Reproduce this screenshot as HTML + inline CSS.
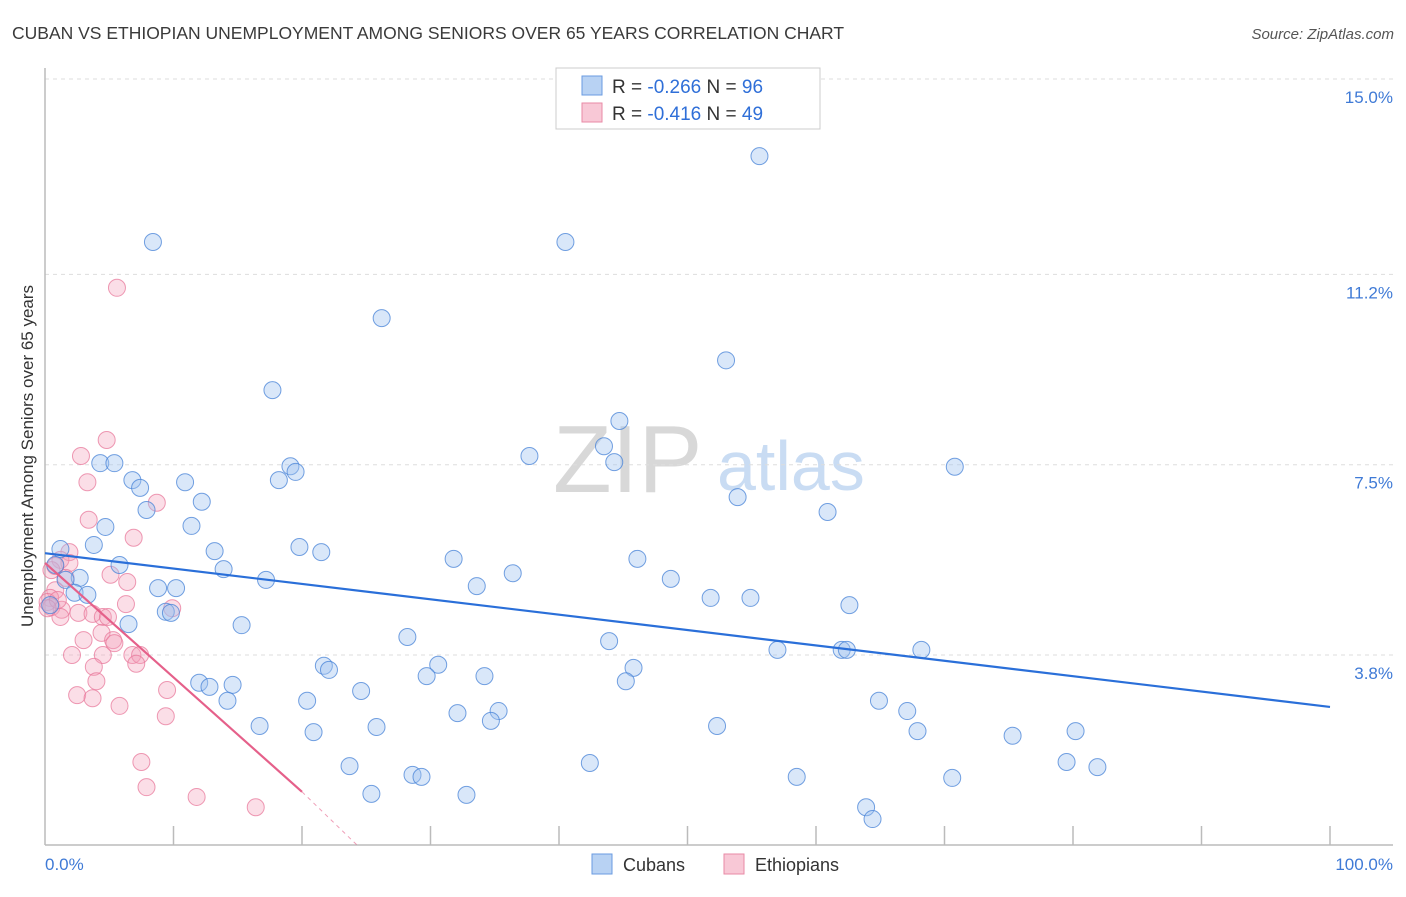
<!DOCTYPE html>
<html><head><meta charset="utf-8"><style>
body{margin:0;background:#fff;font-family:"Liberation Sans",sans-serif;}
svg text{font-family:"Liberation Sans",sans-serif;}
</style></head><body>
<svg id="chart" width="1406" height="892" viewBox="0 0 1406 892" xmlns="http://www.w3.org/2000/svg">
<text x="12" y="39" font-size="17.5" fill="#3a3a3a">CUBAN VS ETHIOPIAN UNEMPLOYMENT AMONG SENIORS OVER 65 YEARS CORRELATION CHART</text>
<text x="1394" y="39" font-size="15" fill="#555" text-anchor="end" font-style="italic">Source: ZipAtlas.com</text>
<g>
<text x="553" y="492" font-size="96" fill="#d8d8d8" font-family="Liberation Serif, serif">ZIP</text>
<text x="717" y="490" font-size="70" fill="#c9dcf3">atlas</text>
</g>
<g id="grid"></g>
<g id="axes"></g>
<g id="marks"></g>
<text transform="translate(33,456) rotate(-90)" font-size="17" fill="#333" text-anchor="middle">Unemployment Among Seniors over 65 years</text>
<g>
<rect x="556" y="68" width="264" height="61" fill="#fff" stroke="#ccc"/>
<rect x="582" y="76" width="20" height="19" fill="#b8d2f3" stroke="#6a9be0"/>
<text x="612" y="93" font-size="19" fill="#333">R = <tspan fill="#2f6fd8">-0.266</tspan>   N = <tspan fill="#2f6fd8">96</tspan></text>
<rect x="582" y="103" width="20" height="19" fill="#f8c8d6" stroke="#e88aa6"/>
<text x="612" y="120" font-size="19" fill="#333">R = <tspan fill="#2f6fd8">-0.416</tspan>   N = <tspan fill="#2f6fd8">49</tspan></text>
</g>
<g>
<rect x="592" y="854" width="20" height="20" fill="#b8d2f3" stroke="#6a9be0"/>
<text x="623" y="871" font-size="18" fill="#333">Cubans</text>
<rect x="724" y="854" width="20" height="20" fill="#f8c8d6" stroke="#e88aa6"/>
<text x="755" y="871" font-size="18" fill="#333">Ethiopians</text>
</g>
</svg>
<script>
const yTicks=[15.0,11.2,7.5,3.8];
const yTickLabels=["15.0%","11.2%","7.5%","3.8%"];
const xTickCount=10;
const xLabels=["0.0%","100.0%"];
const cubanX=[8.4,40.5,55.6,26.2,53.0,17.7,44.7,43.5,37.7,44.3,4.3,5.4,19.1,19.5,18.2,6.8,7.4,10.9,12.2,70.8,53.9,7.9,60.9,4.7,11.4,3.8,1.2,19.8,21.5,13.2,31.8,46.1,5.8,13.9,36.4,17.2,48.7,2.7,1.6,33.6,8.8,10.2,2.3,3.3,51.8,54.9,62.6,9.4,9.8,15.3,6.5,28.2,43.9,57.0,62.0,62.4,68.2,21.7,22.1,30.6,45.8,29.7,34.2,45.2,12.0,12.8,14.6,24.6,20.4,14.2,64.9,67.1,32.1,35.3,34.7,16.7,25.8,52.3,20.9,67.9,80.2,75.3,23.7,42.4,79.5,81.9,28.6,29.3,58.5,70.6,25.4,32.8,63.9,64.4,0.8,0.4];
const cubanY=[11.83,11.83,13.5,10.35,9.53,8.95,8.35,7.86,7.67,7.55,7.53,7.53,7.47,7.36,7.20,7.20,7.05,7.16,6.78,7.46,6.87,6.62,6.58,6.29,6.31,5.94,5.86,5.90,5.80,5.82,5.67,5.67,5.55,5.47,5.39,5.26,5.28,5.30,5.26,5.14,5.10,5.10,5.01,4.97,4.91,4.91,4.77,4.64,4.62,4.38,4.40,4.15,4.07,3.90,3.90,3.90,3.90,3.59,3.51,3.61,3.55,3.39,3.39,3.29,3.26,3.18,3.22,3.10,2.91,2.91,2.91,2.71,2.67,2.71,2.52,2.42,2.40,2.42,2.30,2.32,2.32,2.23,1.64,1.70,1.72,1.62,1.47,1.43,1.43,1.41,1.10,1.08,0.84,0.61,5.55,4.77];
const ethX=[5.6,4.8,2.8,3.3,8.7,3.4,6.9,1.9,1.2,1.9,0.5,5.1,6.4,1.6,0.8,0.4,0.2,0.5,1.3,2.6,3.7,6.3,4.5,4.9,9.9,1.2,4.4,5.3,5.4,3.0,2.1,4.5,6.8,7.4,7.1,3.8,4.0,9.5,2.5,3.7,5.8,9.4,7.5,7.9,11.8,16.4,1.0,0.8,0.2];
const ethY=[10.94,7.98,7.67,7.16,6.76,6.43,6.08,5.80,5.65,5.59,5.45,5.36,5.22,5.30,5.06,4.91,4.83,4.73,4.68,4.62,4.60,4.79,4.54,4.54,4.71,4.54,4.23,4.09,4.03,4.09,3.80,3.80,3.80,3.80,3.63,3.57,3.29,3.12,3.02,2.96,2.81,2.61,1.72,1.23,1.04,0.84,4.87,5.53,4.71];
const cubanTrendX=[0,100];
const cubanTrendY=[5.78,2.79];
const ethTrendX=[0,20,24.3];
const ethTrendY=[5.59,1.14,0.1];

const X0=45,X1=1330,YTOP=79,PPU=576/11.2;
const xs=v=>X0+(X1-X0)*v/100;
const ys=v=>YTOP+(15-v)*PPU;
const NS="http://www.w3.org/2000/svg";
function mk(tag,parent,attrs){const e=document.createElementNS(NS,tag);for(const k in attrs)e.setAttribute(k,attrs[k]);parent.appendChild(e);return e;}
const grid=document.getElementById('grid'),axes=document.getElementById('axes'),marks=document.getElementById('marks');
yTicks.forEach((t,i)=>{
  const l=mk('line',grid,{x1:X0,x2:1393,y1:ys(t),y2:ys(t),stroke:'#ddd','stroke-dasharray':'4,4'});
  
  
  const tx=mk('text',grid,{x:1393,y:ys(t)+24,'font-size':17,fill:'#3f7ad6','text-anchor':'end'});
  tx.textContent=yTickLabels[i];
  
  
});
const yb=845;
const ax=mk('line',axes,{x1:X0,x2:1393,y1:yb,y2:yb,stroke:'#bbb','stroke-width':1.5});


const ay=mk('line',axes,{x1:X0,x2:X0,y1:68,y2:yb,stroke:'#bbb','stroke-width':1.5});


for(let i=1;i<=xTickCount;i++){
  const t=mk('line',axes,{x1:xs(i*10),x2:xs(i*10),y1:826,y2:yb,stroke:'#bbb','stroke-width':1.5});
  
  
}
const xl0=mk('text',axes,{x:45,y:870,'font-size':17,fill:'#3f7ad6'});xl0.textContent=xLabels[0];


const xl1=mk('text',axes,{x:1393,y:870,'font-size':17,fill:'#3f7ad6','text-anchor':'end'});xl1.textContent=xLabels[1];



ethX.forEach((v,i)=>{
  const c=mk('circle',marks,{cx:xs(v),cy:ys(ethY[i]),r:8.5,fill:'rgba(244,160,186,0.35)',stroke:'rgba(232,120,155,0.75)','stroke-width':1});
  
  
});
cubanX.forEach((v,i)=>{
  const c=mk('circle',marks,{cx:xs(v),cy:ys(cubanY[i]),r:8.5,fill:'rgba(160,195,240,0.4)',stroke:'rgba(70,130,215,0.75)','stroke-width':1});
  
  
});
const bl=mk('line',marks,{x1:xs(cubanTrendX[0]),y1:ys(cubanTrendY[0]),x2:xs(cubanTrendX[1]),y2:ys(cubanTrendY[1]),stroke:'#2a6fd9','stroke-width':2.2});


const pl=mk('line',marks,{x1:xs(ethTrendX[0]),y1:ys(ethTrendY[0]),x2:xs(ethTrendX[1]),y2:ys(ethTrendY[1]),stroke:'#e5608a','stroke-width':2.2});


const pd=mk('line',marks,{x1:xs(ethTrendX[1]),y1:ys(ethTrendY[1]),x2:xs(ethTrendX[2]),y2:ys(ethTrendY[2]),stroke:'#e5608a','stroke-width':1,'stroke-dasharray':'4,4',opacity:0.6});


</script>
</body></html>
